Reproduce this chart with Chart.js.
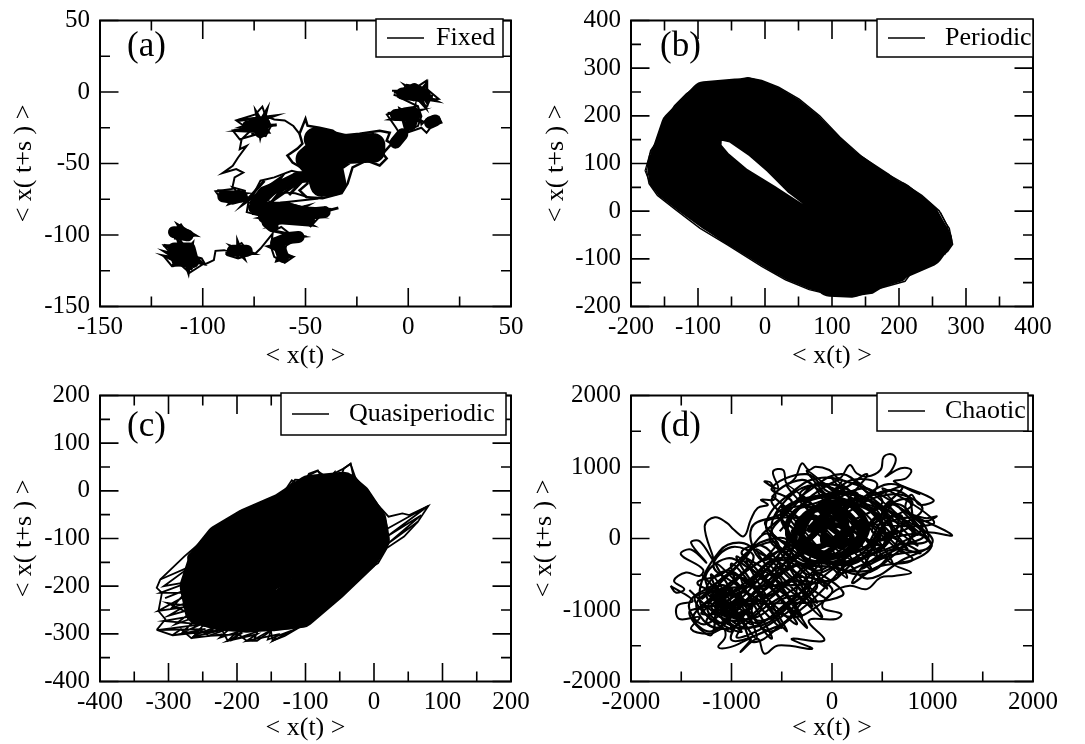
<!DOCTYPE html>
<html>
<head>
<meta charset="utf-8">
<title>Orbits</title>
<script src="https://cdn.jsdelivr.net/npm/chart.js@4"></script>
<style>
    html, body { margin: 0; padding: 0; background: #fff; }
    #page { position: relative; width: 1085px; height: 744px; overflow: hidden; }
    canvas { position: absolute; }
</style>
</head>
<body>
<div id="page">
    <canvas id="fixedChart"></canvas>
    <canvas id="periodicChart"></canvas>
    <canvas id="quasiChart"></canvas>
    <canvas id="chaoticChart"></canvas>
</div>
<script>
// tick labels
const fixedTicks = [-150, -100, -50, 0, 50];
const periodicTicks = [-200, -100, 0, 100, 200, 300, 400];
const quasiTicks = [-400, -300, -200, -100, 0, 100, 200];
const chaoticTicks = [-2000, -1000, 0, 1000, 2000];

// (a) fixed, [x, y], null breaks the line
const fixedOrbit = [[-7.9,0.9],[-2.9,0.9],[-0.8,5.1],[4.7,3.9],[8.9,7.9],[8.9,2.3],[14.8,-4.9],[10.6,-5.3],[8.9,-10.6],[6.4,-6.5],[0.5,-5.3],[-7.1,-1.9],[4.7,-10],
    [6.4,-16.9],[4.7,-23.8],[0.3,-26.2],[-2.9,-31.9],[-6.2,-24.5],[-10.4,-15.7],[-2,-11.6],[4.7,-10],[6.4,-22.7],[9.8,-18],[14.8,-17.4],[16.2,-21.5],[11.4,-23.8],[8.9,-28.5],[6.4,-25],
    [-2.9,-29.6],[-6.2,-36.6],[-8,-36.1],null,[-52.9,-29.2],[-55.9,-23.8],[-60.1,-19.9],[-65.2,-19.2],[-69.4,-16.9],[-71,-10.2],[-74.4,-15.7],[-83.7,-19.9],[-78.7,-25],[-85.4,-26.9],[-82,-33.1],[-73.6,-29.6],[-69.4,-30.8],[-66.8,-23.8],[-69.4,-16.9],
    [-81.1,-33.1],[-82,-40],[-78.6,-37.7],[-82.8,-45.8],[-85.4,-51.6],[-90.4,-56.7],[-83.7,-53.9],[-80.3,-56.3],[-84.5,-59.7],[-85.7,-67.8],
    [-93.8,-69.4],[-90.4,-75.9],[-85.4,-78.2],[-79.5,-75.9],[-79.5,-69],[-85.4,-66.7],[-79.5,-75.9],
    [-76.1,-73.6],[-71.9,-62],[-65.2,-59.7],[-56.7,-55.1],[-50,-57.4],[-55,-63.2],[-62.6,-70.1],[-55,-70.8],[-45.8,-74.8],[-60.1,-77.1],[-51.7,-80.6],[-38.2,-81.7],[-40.7,-85.2],[-43.3,-87.5],[-47.5,-94],[-50.8,-89.8],[-60.1,-88.7],[-64.3,-89.8],[-65.2,-94.4],[-70.2,-92.6],[-72.7,-86.3],[-78.6,-84],[-77.8,-77.1],[-70.2,-80.6],[-66.8,-89.8],
    [-65.2,-96.8],[-61.8,-94.4],[-57.6,-99.1],[-50.8,-100.9],[-55,-103.7],[-59.3,-107.2],[-60.9,-114.1],[-55.9,-115.3],[-60.1,-119.4],[-65.2,-115.3],[-66.8,-108.3],[-66,-99],[-71.9,-109.5],[-74.4,-113],[-78.6,-110.6],[-81.1,-105.6],[-85.4,-109.5],[-87.9,-114.1],[-82.8,-116.4],[-77.8,-114.1],[-83.7,-113],[-89.6,-110.6],[-93.8,-111.1],[-94.6,-117.6],[-98.8,-120.4],[-100.5,-116.4],[-103,-115.3],[-100.5,-121],[-106.4,-126.4],[-110.6,-121],[-115,-121.8],[-119,-114.8],[-114,-115.3],[-119,-107.2],[-112.3,-107.2],[-106.4,-107.2],[-103,-115.3],
    [-109.8,-106],[-111.4,-102.5],[-115.7,-97.9],[-110.6,-92.6],[-108.1,-97.9],[-103.9,-100.2],[-108.9,-103.2],[-114,-102.5]];
const fixedEdge = [[-52.9,-29.2],[-51.5,-36.1],[-53.9,-39.6],[-58.8,-44.4],[-56.3,-49.3],[-49.5,-54.9],[-49,-63.9],[-52.9,-68.8],[-49.5,-73.6],[-41.7,-74.3],[-32.4,-70.8],[-29.5,-63.9],[-27.1,-52.8],[-20.2,-47.9],[-13.9,-51.4],[-10.5,-46.5],[-12.4,-43.1],[-8,-36.1],[-10.5,-34],[-9,-28.5],[-13.9,-27.1],[-23.7,-29.2],[-33.4,-30.6],[-36.8,-27.1],[-43.2,-25],[-49,-23.6],[-50,-18.8],[-52.9,-29.2]];
const fixedScribble = [[-83,-20],[-66,-17],[-80,-24],[-64,-23],[-82,-27],[-68,-28],[-74,-14],[-72,-31],[-69,-13],[-76,-30],null,
    [-93,-69],[-80,-71],[-91,-74],[-79,-74],[-87,-78],[-82,-68],null,
    [-7,0],[12,-3],[-5,-2],[13,-6],[-1,4],[8,-10],[4,4],[9,-7],[9,6],[2,-6],null,
    [-10,-15],[5,-13],[-8,-19],[6,-20],[-4,-12],[-1,-28],[3,-12],[2,-26],null,
    [-70,-62],[-80,-78],[-62,-60],[-72,-80],[-55,-57],[-66,-76],[-50,-60],[-58,-72],null,
    [-78,-80],[-40,-83],[-76,-85],[-44,-87],[-65,-78],[-47,-93],[-72,-88],[-50,-80],[-66,-93],[-34,-81],null,
    [-66,-97],[-52,-101],[-66,-103],[-56,-104],[-68,-108],[-57,-115],[-64,-118],[-60,-100],null,
    [-89,-113],[-76,-113],[-86,-108],[-80,-116],[-83,-105],[-83,-116],null,
    [-119,-107],[-102,-118],[-118,-112],[-105,-124],[-118,-115],[-100,-120],[-112,-104],[-107,-126],[-105,-106],[-115,-122],null,
    [-116,-98],[-104,-100],[-112,-93],[-108,-103]];
const fixedDense = [[-3,-1],[8,-2],[3,2],null,[-6,-16],[3,-15],[1,-23],null,[10.6,-21.5],[13,-19.9],null,
    [-2.9,-29.6],[-6.2,-35.4],null,[-78,-24],[-70,-22],[-72,-28],null,[-90,-73],[-81,-73],null,
    [-74.4,-78.2],[-70.2,-70.1],[-60.1,-64.4],[-53.4,-59.7],[-48.3,-59],null,
    [-75,-81],[-60.1,-81],[-48.3,-85.2],[-40.7,-84],null,[-70.2,-87.5],[-48.3,-89.8],null,[-68.5,-91],[-66,-94],null,
    [-64.3,-105.6],[-58.4,-102.1],[-53.4,-101.4],null,[-62.6,-108.3],[-60.9,-115.3],null,[-85.4,-111],[-78.6,-111],null,
    [-114,-109.5],[-106.4,-109.5],[-104.7,-118.8],[-112.3,-117.6],[-114,-109.5],null,[-114,-98],[-107.4,-100.2]];
const fixedCore = [[-45,-33],[-30,-38],[-17,-37],[-17,-41],[-30,-42],[-38,-50],[-36,-64],[-42,-65],[-44,-55],[-49,-47],[-42,-38]];

// (b) periodic
const periodicOuter = [[-176.8,85.4],[-170.7,127],[-160.5,148],[-150.3,186],[-135,221],[-117,246.5],[-96.8,264.6],[-76.4,268],[-58.6,266],[-43.3,275.7],[-25.5,280],[-5,274],[20.4,260],[51,235],[81.5,200],[112,155],[142.6,116.7],[173,85.4],[203.8,61],[234,33],[260,0.7],[270,-25.7],[275,-36],[280,-69.4],[272.5,-84.7],[257,-98.6],[234,-116],[216.5,-133],[209,-147],[173,-161],[160.5,-171.5],[127,-178.5],[96.8,-175],[66,-164.6],[30.6,-143.8],[-5,-116],[-56,-70.8],[-96.8,-36],[-132.5,2],[-160.5,33],[-173,57.6],[-176.8,85.4]];
const periodicInner = [[-168,85],[-162,124],[-151,146],[-141,181],[-127,213],[-111,237],[-93,254],[-76,258],[-58,256],[-43,265],[-25,270],[-7,264],[16,251],[45,227],[75,193],[105,149],[136,110],[167,77],[198,52],[227,25],[251,-3],[260,-27],[265,-38],[270,-69],[263,-80],[250,-91],[228,-107],[211,-123],[203,-137],[170,-151],[157,-162],[127,-168],[99,-165],[69,-154],[35,-134],[1,-107],[-50,-62],[-90,-27],[-125,9],[-153,39],[-165,60],[-168,85]];
const periodicWisps = [[-172,60],[-179,85],[-172,120],[-162,145],null,[262,-3],[272,-30],[278,-70],[268,-92]];
const periodicRingA = [[-153,96],[-133,179],[-90,241],[-43,247],[12,230],[65,176],[119,102],[173,52],[222,0],[238,-55],[201,-93],[149,-127],[86,-135],[24,-102],[-52,-37],[-116,27],[-153,96]];
const periodicRingB = [[-131,107],[-115,172],[-83,219],[-44,219],[4,200],[49,153],[95,88],[142,43],[184,0],[196,-41],[169,-70],[126,-93],[74,-95],[18,-59],[-48,-3],[-101,52],[-131,107]];
const periodicRingC = [[-108,118],[-98,165],[-77,196],[-44,192],[-4,170],[32,129],[72,75],[112,35],[147,0],[155,-28],[136,-46],[102,-60],[63,-54],[12,-17],[-43,31],[-85,77],[-108,118]];
const periodicRingD = [[-86,129],[-85,160],[-72,180],[-45,172],[-12,140],[16,106],[48,61],[81,26],[109,0],[113,-14],[103,-23],[79,-27],[51,-15],[6,26],[-39,65],[-70,102],[-86,129]];
const periodicLobe = [[200,30],[236,-10],[257,-60],[244,-85],[220,-100],[190,-118],[165,-133],[130,-150],[97,-148]];

// (c) quasiperiodic
const quasiEdge = [[-317.2,-291.7],[-294.4,-302.8],[-281.8,-290.3],[-266.7,-309],[-251.5,-293.8],[-241.4,-304.2],[-221.2,-293.8],[-213.6,-314.6],[-201,-297.2],[-185.9,-314.6],[-170.7,-314.6],[-150.5,-293.8],[-148,-314.6],[-130.3,-304.2],[-105,-283.3],[-79.8,-248.6],[-54.5,-220.8],[-24.2,-179.2],[6,-151.4],[18.7,-120.1],[43.9,-95.8],[64.1,-64.6],[79.3,-31.9],[51.5,-50.7],[41.4,-47.2],[21.2,-54.2],[3.5,-26.4],[-26.8,25.7],[-34.3,56.9],[-44.4,46.5],[-57.1,37.5],[-69.7,29.2],[-82.3,41.7],[-94.9,32.6],[-102.5,22.2],[-115.2,23.6],[-127.8,1.4],[-145.5,-19.4],[-160.6,-21.5],[-185.9,-40.3],[-206.1,-54.2],[-226.3,-78.5],[-251.5,-106.3],[-276.8,-137.5],[-312.1,-186.1],[-317.2,-203.5],[-309.6,-213.9],[-314.6,-252.1],[-304.5,-269.4],[-317.2,-291.7]];
const quasiFringe = [[-312,-186],[-267,-158],[-307,-200],[-267,-190],[-312,-214],[-267,-214],[-315,-252],[-267,-242],[-302,-235],[-262,-262],[-307,-273],[-252,-280],[-317,-292],[-246,-290],[-294,-303],[-234,-294],[-267,-309],[-221,-301],[-241,-304],[-196,-301],[-214,-315],[-171,-301],[-186,-315],[-140,-301],[-148,-315],[-115,-290],null,
    [-145,-23],[-128,5],[-120,22],[-105,8],[-95,36],[-82,43],[-72,15],[-57,40],[-52,15],[-44,47],[-34,57],[-29,22],[-26,26],[4,-26],[-32,36],[6,-40],[-39,36],[16,-54],null,
    [16,-82],[79,-32],[19,-96],[69,-51],[21,-110],[64,-65],null,
    [-305,-225],[-270,-205],[-295,-245],[-262,-230],[-300,-262],[-258,-245],[-290,-280],[-255,-262],[-280,-298],[-245,-275],[-262,-303],[-230,-285],[-245,-300],[-210,-288],[-225,-308],[-190,-292],[-205,-312],[-170,-295],[-175,-312],[-150,-292],[-155,-312],[-125,-296],[-130,-303],[-100,-275]];
const quasiBody = [[-259,-165],[-265.7,-207],[-259,-252],[-246.5,-273],[-216,-281],[-186,-285],[-150.5,-281],[-122.7,-278],[-110,-268],[-85,-238],[-60.6,-210],[-30,-170],[-1.5,-139],[9.6,-115],[12,-82],[9.6,-65],[-4,-35],[-30,5],[-42,22],[-70,17],[-92,10],[-110,0],[-123,-14],[-140,-32],[-158,-35],[-183,-53],[-202,-67],[-221,-90],[-246.5,-118],[-264,-141],[-259,-165]];
const quasiRingA = [[-256.6,-252],[-221.2,-266],[-145.5,-266],[-105,-259],[-59.6,-203.5],[-14.1,-141],[3.5,-102.8],[-1.5,-61.1],[-24.2,-12.5],[-44.4,11.8],[-94.9,4.9],[-135.4,-33.3],[-185.9,-64.6],[-226.3,-99.3],[-251.5,-144.4],[-264.1,-200],[-256.6,-252]];
const quasiRingB = [[-241.4,-234.7],[-196,-241.7],[-135.4,-234.7],[-84.8,-179.2],[-39.4,-109.7],[-29.3,-68],[-54.5,-33.3],[-105,-40.3],[-155.6,-78.5],[-206.1,-120.1],[-231.3,-172.2],[-241.4,-234.7]];
const quasiCentre = [[-206,-200],[-155.6,-186],[-94.9,-123.6],[-64.6,-75],[-105,-81.9],[-165.7,-123.6],[-201,-165.3],[-206,-200],[-130,-130],[-180,-150],[-140,-175],[-110,-105],[-150,-150]];

// (d) chaotic
const chaoticOutskirts = [[-1606,-662],[-1555,-755],[-1470,-708],[-1572,-593],[-1453,-477],[-1318,-523],[-1284,-431],[-1504,-222],[-1403,-153],[-1250,-338],[-1403,-60],[-1318,-37],[-1182,-292],[-1267,171],[-1165,296],[-1046,218],[-978,125],[-876,32],[-808,264],[-740,426],[-638,472],[-706,542],[-571,551],[-604,773],[-672,796],[-537,704],[-587,935],[-486,958],[-452,773],[-367,843],[-299,1051],[-231,958],[-163,1005],[-27,958],[75,843],[177,1028],[245,912],[346,866],[482,958],[516,1144],[601,1176],[635,1097],[584,935],[533,866],[686,982],[788,958],[737,843],[618,796],[1009,542],[873,472],[788,611],[737,403],[924,287],[1043,310],[924,241],[822,310],[1195,46],[924,79],[992,-106],[822,-292],[618,-361],[788,-477],[618,-523],[482,-546],[346,-708],[177,-662],[7,-755],[-95,-963],[92,-1056],[41,-1125],[-231,-1148],[-78,-1426],[-401,-1403],[-197,-1542],[-537,-1495],[-672,-1611],[-740,-1403],[-910,-1588],[-808,-1403],[-1012,-1519],[-1131,-1519],[-1063,-1380],[-1080,-1264],[-1216,-1333],[-1403,-1264],[-1318,-1102],[-1521,-1125],[-1538,-940],[-1386,-870],[-1606,-662]];
const chaoticLower = [[-1350,-1000],[-900,-500],[-500,-150],[-250,-60],[-480,-350],[-880,-720],[-1250,-1150],[-1000,-1250],[-600,-820],[-260,-430],[-80,-250],[-300,-620],[-700,-1000],[-950,-1380],[-620,-1200],[-250,-800],[-60,-500],[120,-350],[-120,-760],[-480,-1180],[-780,-1450],[-900,-1150],[-1120,-800],[-1340,-620],[-1100,-500],[-850,-200],[-650,70],[-520,-200],[-760,-560],[-1000,-900],[-1280,-1200],[-1420,-900],[-1150,-620],[-900,-330],[-720,-60],[-450,-20],[-620,-380],[-860,-780],[-1100,-1100],[-820,-1250],[-450,-900],[-180,-520],[-340,-240],[-640,-600],[-950,-1000],[-1200,-1300],[-1380,-1100],[-1200,-850],[-1020,-640],[-780,-260],[-1000,-120],[-1180,-380],[-1000,-600],[-680,-900],[-400,-1100],[-150,-950],[0,-700],[-330,-540],[-620,-760],[-880,-1080],[-1000,-1420],[-700,-1320],[-360,-1020],[-560,-680],[-820,-420],[-1050,-280],[-1260,-560],[-1040,-960],[-760,-1180],[-520,-1000],[-220,-680],[-420,-420],[-700,-220],[-900,-60],[-1120,-180],[-1320,-800],[-1140,-1180],[-880,-900],[-600,-460],[-380,-120],[-200,-200],[-450,-620],[-780,-880],[-1050,-760],[-1240,-980],[-1060,-1230],[-900,-1300],[-1180,-1030],[-1420,-720]];
const chaoticLowerB = [[-1300,-850],[-1100,-650],[-950,-850],[-1150,-1050],[-900,-1150],[-700,-950],[-900,-750],[-1100,-900],[-1250,-700],[-1050,-450],[-850,-600],[-650,-800],[-500,-600],[-700,-400],[-900,-200],[-700,-100],[-500,-400],[-350,-700],[-550,-1100],[-850,-1250],[-1050,-1100],[-1200,-950],[-1000,-750],[-800,-550],[-600,-300],[-400,-300],[-600,-600],[-800,-1000],[-600,-1300],[-300,-900],[-150,-650],[-400,-600],[-750,-700],[-1000,-500],[-1200,-700],[-1350,-950],[-1150,-1250],[-900,-950],[-650,-700],[-450,-450],[-250,-350],[-100,-450],[-300,-750],[-500,-850],[-750,-1100],[-1000,-1100],[-1250,-800],[-1050,-700],[-850,-450],[-650,-250],[-550,-50],[-800,-150],[-950,-400],[-1150,-750],[-900,-1000],[-700,-1150],[-450,-950],[-250,-550],[-550,-300],[-850,-650],[-1100,-850],[-1300,-1050],[-1000,-1000],[-800,-800],[-600,-550],[-350,-350]];
const chaoticLowerCross = [[-1300,-500],[-800,-1200],[-1150,-350],[-500,-1250],[-950,-250],[-300,-1100],[-750,-150],[-150,-900],[-550,-100],[-50,-700],[-350,-150],[50,-550],[-1350,-800],[-1000,-1300],[-1200,-500],[-750,-1400],[-1000,-350],[-450,-1300],[-850,-300],[-250,-1250],[-650,-350],[-100,-1100],[-450,-300],[100,-800],[-1400,-1000],[-1200,-1350],[-1100,-650],[-600,-1400],[-900,-550],[-350,-1200],[-700,-450],[-200,-950],[-400,-550],[-50,-850]];
const chaoticLowerDark = [[-1250,-900],[-1000,-700],[-1150,-1000],[-900,-850],[-1100,-800],[-1000,-1050],[-800,-950],[-1050,-900],[-1200,-800],[-950,-1100],[-750,-850]];
const chaoticUpper = [[-520,100],[-200,600],[100,820],[-100,450],[300,700],[500,500],[200,250],[650,480],[800,200],[400,-50],[850,60],[980,-120],[550,-250],[300,-420],[600,-150],[880,-200],[500,100],[250,400],[620,620],[900,420],[650,150],[300,-200],[50,-500],[380,-320],[720,-100],[920,60],[600,350],[250,620],[-50,760],[-320,620],[-80,350],[-400,300],[-600,550],[-300,820],[-50,620],[200,820],[450,760],[250,450],[-100,200],[-450,-50],[-200,-350],[150,-100],[400,200],[700,300],[500,-350],[150,-450],[-250,-200],[-500,-450],[-350,50],[-550,350],[-150,500],[150,650],[420,420],[750,550],[820,250],[1000,-50],[700,-300],[350,-560],[100,-300],[-150,-450],[-420,-250],[-620,20],[-380,450],[-120,780],[180,520],[560,760],[880,620]];
const chaoticUpperB = [[-700,50],[-400,500],[-600,700],[-250,900],[0,640],[350,900],[150,480],[600,680],[800,480],[550,250],[850,280],[950,-30],[650,-100],[800,-300],[450,-400],[200,-620],[380,-200],[100,-350],[-250,-500],[-450,-150],[-700,-300],[-800,150],[-500,350],[-250,650],[100,900],[400,620],[700,720],[500,350],[800,100],[600,-250],[300,-500],[0,-400],[-300,-350],[-550,-100],[-650,250],[-350,700],[-100,850],[250,750],[500,600],[750,350],[900,150],[700,-50],[450,-200],[250,-300],[-50,-600],[-350,-150],[-600,100],[-450,550],[-150,750],[300,500],[650,300],[550,-50],[350,-150],[600,500],[400,100],[700,100]];
const chaoticUpperCross = [[-600,600],[200,-300],[-450,750],[450,-250],[-250,950],[700,-200],[0,850],[850,-100],[250,800],[950,0],[500,700],[1000,200],[-650,250],[-100,-400],[-500,450],[150,-550],[-300,600],[400,-450],[-150,700],[600,-350],[100,750],[750,-150],[350,600],[850,50],[550,500],[900,250]];
const chaoticUpperDark = [[-450,-100],[-50,550],[250,600],[-300,-200],[100,-300],[450,300],[500,-100],[-250,450],[-450,150],[-100,-300],[350,-250],[600,100],[350,550],[-100,600],[-500,350],[-250,-150],[200,-350],[500,150],[300,450],[-200,550],[-450,50],[-100,-200],[300,-150],[550,250]];
const chaoticCore = [[-380,100],[-100,480],[150,460],[-250,-50],[-60,-200],[300,250],[260,-100],[-200,300],[-300,-100],[50,-250],[280,80],[80,420],[-250,350],[-380,-30],[-120,-260],[200,-180],[350,150],[180,480],[-150,420],[-350,180],[-150,-120],[150,160],[-120,160],[100,-120],[120,300],[-220,120],[0,380],[200,-20],[-80,-60],[-50,280]];

const legendNames = ['Fixed', 'Periodic', 'Quasiperiodic', 'Chaotic'];
const panelTags = ['(a)', '(b)', '(c)', '(d)'];
const serif = '"Liberation Serif", "Times New Roman", serif';

const toPoints = list => list.map(p => p ? { x: p[0], y: p[1] } : { x: null, y: null });

function orbit(list, width, tension) {
    return {
        data: toPoints(list),
        showLine: true,
        pointRadius: 0,
        borderColor: '#000',
        backgroundColor: '#000',
        borderWidth: width,
        borderJoinStyle: width > 3.5 ? 'round' : 'miter',
        borderCapStyle: width > 3.5 ? 'round' : 'butt',
        tension: tension || 0
    };
}

// inward ticks on all four sides, the frame, the tag and the boxed legend
const decor = {
    id: 'decor',
    afterDraw(chart, args, o) {
        const { ctx, chartArea: a, scales } = chart;
        ctx.save();
        ctx.strokeStyle = '#000';
        ctx.fillStyle = '#000';
        ctx.lineWidth = 1.6;
        ctx.beginPath();
        scales.x.ticks.forEach(t => {
            const p = scales.x.getPixelForValue(t.value);
            const len = o.majors.includes(t.value) ? 18.5 : 10;
            ctx.moveTo(p, a.bottom); ctx.lineTo(p, a.bottom - len);
            ctx.moveTo(p, a.top); ctx.lineTo(p, a.top + len);
        });
        scales.y.ticks.forEach(t => {
            const p = scales.y.getPixelForValue(t.value);
            const len = o.majors.includes(t.value) ? 18.5 : 10;
            ctx.moveTo(a.left, p); ctx.lineTo(a.left + len, p);
            ctx.moveTo(a.right, p); ctx.lineTo(a.right - len, p);
        });
        ctx.stroke();
        ctx.lineWidth = 2;
        ctx.strokeRect(a.left, a.top, a.right - a.left, a.bottom - a.top);

        ctx.font = '35px ' + serif;
        ctx.textBaseline = 'middle';
        ctx.textAlign = 'left';
        ctx.fillText(o.tag, o.tagX - o.left, o.tagY - o.top);

        const b = o.box;
        ctx.fillStyle = '#fff';
        ctx.fillRect(b[0] - o.left, b[1] - o.top, b[2] - b[0], b[3] - b[1]);
        ctx.lineWidth = 1.5;
        ctx.strokeRect(b[0] - o.left, b[1] - o.top, b[2] - b[0], b[3] - b[1]);
        ctx.beginPath();
        ctx.moveTo(b[0] + 11 - o.left, o.lineY - o.top);
        ctx.lineTo(b[0] + 48 - o.left, o.lineY - o.top);
        ctx.stroke();
        ctx.fillStyle = '#000';
        ctx.font = '26px ' + serif;
        ctx.fillText(o.name, o.textX - o.left, o.lineY - o.top);
        ctx.restore();
    }
};

function panel(id, p) {
    const canvas = document.getElementById(id);
    canvas.width = p.width;
    canvas.height = p.height;
    canvas.style.left = p.left + 'px';
    canvas.style.top = p.top + 'px';
    const axis = (title, range, extra) => ({
        type: 'linear',
        min: range[0],
        max: range[range.length - 1],
        grid: { display: false, drawTicks: false, tickLength: 0 },
        border: { display: false },
        ticks: {
            stepSize: p.minorStep,
            autoSkip: false,
            maxRotation: 0,
            color: '#000',
            font: { family: serif, size: 25 },
            padding: extra.tickPad,
            callback: v => range.includes(v) ? String(v) : ''
        },
        title: { display: true, text: title, color: '#000', font: { family: serif, size: 26 }, padding: extra.titlePad },
        afterFit: extra.afterFit
    });
    return new Chart(canvas, {
        type: 'scatter',
        data: { datasets: p.datasets },
        plugins: [decor],
        options: {
            responsive: false,
            animation: false,
            devicePixelRatio: 1,
            layout: {
                autoPadding: false,
                padding: { left: 0, top: p.plot.top - p.top, right: p.left + p.width - p.plot.right, bottom: 0 }
            },
            scales: {
                x: axis('< x(t) >', p.ticks, {
                    tickPad: 6,
                    titlePad: { top: 0, bottom: 0 },
                    afterFit: s => {
                        s.height = p.top + p.height - p.plot.bottom;
                        s.paddingLeft = 0;
                        s.paddingRight = 0;
                    }
                }),
                y: axis('< x( t+s ) >', p.ticks, {
                    tickPad: 10,
                    titlePad: { top: p.titleX - p.left - 15, bottom: 0 },
                    afterFit: s => {
                        s.width = p.plot.left - p.left;
                        s.paddingTop = 0;
                        s.paddingBottom = 0;
                    }
                })
            },
            plugins: {
                legend: { display: false },
                tooltip: { enabled: false },
                decor: {
                    majors: p.ticks,
                    left: p.left,
                    top: p.top,
                    tag: p.tag,
                    tagX: p.tagX,
                    tagY: p.tagY,
                    name: p.name,
                    box: p.box,
                    lineY: p.lineY,
                    textX: p.textX
                }
            }
        }
    });
}

panel('fixedChart', {
    left: 0, top: 0, width: 535, height: 372,
    plot: { left: 100, right: 511, top: 20.5, bottom: 306.5 },
    ticks: fixedTicks, minorStep: 25, titleX: 24,
    tag: panelTags[0], tagX: 127, tagY: 47,
    name: legendNames[0], box: [376, 19, 503, 57], lineY: 38, textX: 436,
    datasets: [orbit(fixedOrbit, 2), orbit(fixedEdge, 2.5), orbit(fixedScribble, 3), orbit(fixedDense, 12), orbit(fixedCore, 24)]
});

panel('periodicChart', {
    left: 525, top: 0, width: 560, height: 372,
    plot: { left: 631, right: 1033, top: 20.5, bottom: 306.5 },
    ticks: periodicTicks, minorStep: 50, titleX: 556,
    tag: panelTags[1], tagX: 660, tagY: 47,
    name: legendNames[1], box: [877, 19, 1033, 57], lineY: 38, textX: 945,
    datasets: [orbit(periodicOuter, 1.5), orbit(periodicWisps, 1.2), orbit(periodicInner, 10), orbit(periodicRingA, 30), orbit(periodicRingB, 30), orbit(periodicRingC, 30), orbit(periodicRingD, 28), orbit(periodicLobe, 30)]
});

panel('quasiChart', {
    left: 0, top: 372, width: 535, height: 372,
    plot: { left: 100, right: 511, top: 395.5, bottom: 681.5 },
    ticks: quasiTicks, minorStep: 50, titleX: 24,
    tag: panelTags[2], tagX: 127, tagY: 427,
    name: legendNames[2], box: [281, 393, 506, 435], lineY: 414, textX: 349,
    datasets: [orbit(quasiEdge, 1.8), orbit(quasiFringe, 1.8), orbit(quasiBody, 12), orbit(quasiRingA, 27), orbit(quasiRingB, 27), orbit(quasiCentre, 27)]
});

panel('chaoticChart', {
    left: 525, top: 372, width: 560, height: 372,
    plot: { left: 631, right: 1033, top: 395.5, bottom: 681.5 },
    ticks: chaoticTicks, minorStep: 500, titleX: 544,
    tag: panelTags[3], tagX: 660, tagY: 427,
    name: legendNames[3], box: [877, 393, 1028, 431], lineY: 411, textX: 945,
    datasets: [orbit(chaoticOutskirts, 2, 0.4), orbit(chaoticLower, 2.2, 0.4), orbit(chaoticLowerB, 2.2, 0.4), orbit(chaoticLowerCross, 2.2, 0.4), orbit(chaoticLowerDark, 3.5, 0.4), orbit(chaoticUpper, 2.2, 0.4), orbit(chaoticUpperB, 2.2, 0.4), orbit(chaoticUpperCross, 2, 0.4), orbit(chaoticUpperDark, 3.5, 0.4), orbit(chaoticCore, 6, 0.3)]
});
</script>
</body>
</html>
